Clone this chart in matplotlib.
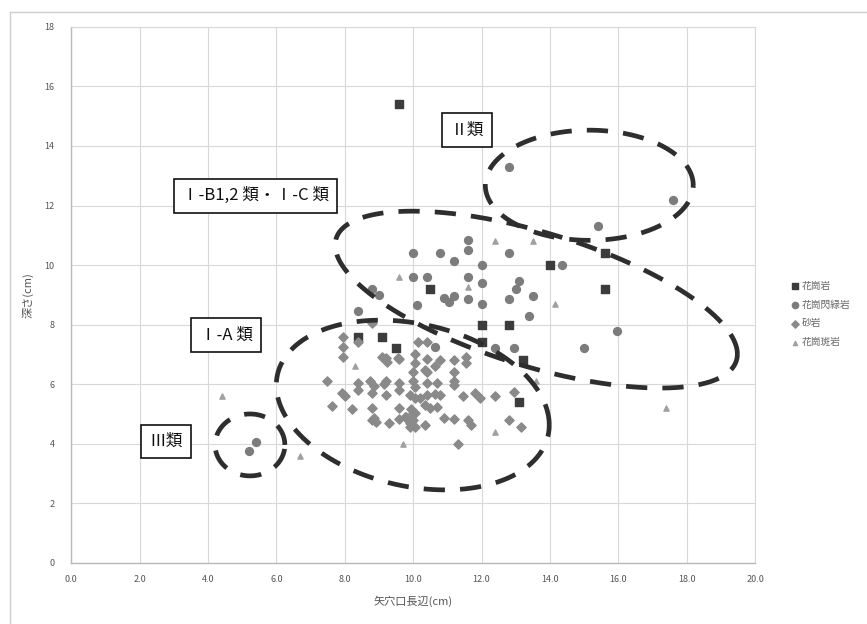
import numpy as np
import matplotlib
matplotlib.use("Agg")
import matplotlib.pyplot as plt
from matplotlib.lines import Line2D

plt.rcParams['font.family'] = ['Noto Sans CJK JP', 'DejaVu Sans']

# 花崗岩 (squares)
granite_x = [9.6, 14.0, 15.6, 15.6, 12.0, 12.8, 13.2, 10.5, 12.0, 13.1, 9.1, 9.5, 8.4]
granite_y = [15.4, 10.0, 10.4, 9.2, 8.0, 8.0, 6.8, 9.2, 7.4, 5.4, 7.6, 7.2, 7.6]

# 花崗閃緑岩 (circles)
grano_x = [12.8, 17.6, 15.4, 14.35, 15.95, 15.0, 5.4, 5.2, 11.6, 11.6, 10.0, 10.8, 11.2,
           12.8, 12.0, 10.0, 10.4, 11.6, 12.0, 13.1, 13.0, 10.9, 11.05, 11.2, 11.6, 12.0,
           12.8, 13.5, 10.1, 13.4, 8.8, 9.0, 8.4, 12.4, 12.95, 10.65]
grano_y = [13.3, 12.2, 11.3, 10.0, 7.8, 7.2, 4.05, 3.75, 10.85, 10.5, 10.4, 10.4, 10.15,
           10.4, 10.0, 9.6, 9.6, 9.6, 9.4, 9.45, 9.2, 8.9, 8.75, 8.95, 8.85, 8.7,
           8.85, 8.95, 8.65, 8.3, 9.2, 9.0, 8.45, 7.2, 7.2, 7.25]

# 砂岩 (diamonds)
sand_x = [7.96, 7.96, 7.96, 8.4, 9.1, 9.25, 9.6, 10.05, 10.05, 10.4, 10.8, 11.2, 11.55, 11.55,
          7.47, 8.4, 8.4, 8.75, 8.85, 9.2, 9.6, 9.6, 10.0, 10.0, 10.05, 10.4, 10.4, 10.7,
          11.2, 11.2, 11.2, 10.35, 10.65, 7.92, 8.0, 8.8, 9.2, 9.9, 10.05, 10.2, 10.4, 10.65,
          10.8, 11.45, 11.8, 11.95, 12.4, 12.95, 7.62, 8.2, 8.8, 9.6, 9.95, 10.05, 10.35, 10.5,
          10.7, 8.8, 8.9, 9.3, 9.6, 9.8, 9.9, 9.9, 10.35, 10.9, 11.2, 11.6, 11.7, 12.8,
          13.15, 11.3, 10.15, 10.4, 9.15, 8.85, 9.75, 10.0, 10.0, 10.05, 9.2, 9.55, 8.8]
sand_y = [7.6, 7.25, 6.9, 7.4, 6.9, 6.75, 6.85, 7.0, 6.7, 6.85, 6.8, 6.8, 6.9, 6.7,
          6.12, 6.05, 5.8, 6.1, 5.95, 6.1, 6.05, 5.8, 6.42, 6.12, 5.9, 6.42, 6.03, 6.05,
          6.42, 6.1, 5.98, 6.48, 6.6, 5.72, 5.6, 5.7, 5.65, 5.64, 5.55, 5.53, 5.64, 5.67,
          5.64, 5.6, 5.72, 5.53, 5.6, 5.75, 5.27, 5.16, 5.2, 5.2, 5.15, 5.04, 5.3, 5.19,
          5.25, 4.8, 4.74, 4.7, 4.82, 4.9, 4.71, 4.55, 4.63, 4.86, 4.82, 4.8, 4.63, 4.8,
          4.55, 4.0, 7.43, 7.43, 6.0, 4.86, 4.9, 5.02, 4.8, 4.57, 6.87, 6.87, 8.05]

# 花崗斑岩 (small triangles)
porph_x = [4.4, 6.7, 17.4, 13.5, 9.6, 9.7, 12.4, 13.6, 8.3, 14.15, 11.6, 12.4]
porph_y = [5.6, 3.6, 5.2, 10.8, 9.6, 4.0, 4.4, 6.1, 6.6, 8.7, 9.25, 10.8]

series_names = ['花崗岩', '花崗閃緑岩', '砂岩', '花崗斑岩']

# grouping ellipses: centre x, centre y, half width, half height, skew (deg)
ellipse_II = (15.15, 12.68, 3.04, 1.85, 0)
ellipse_IB = (13.6, 8.84, 5.88, 2.97, -38)
ellipse_IA = (9.99, 5.30, 3.99, 2.85, -13.6)
ellipse_III = (5.23, 3.96, 1.02, 1.04, 0)

box_labels = ['Ⅱ類', 'Ⅰ-B1,2 類・Ⅰ-C 類', 'Ⅰ-A 類', 'Ⅲ類']
box_x = [11.58, 5.39, 4.53, 2.78]
box_y = [14.53, 12.33, 7.65, 4.07]


def ellipse_xy(cx, cy, rx, ry, skew):
    t = np.linspace(0, 2 * np.pi, 400)
    return cx + rx * np.cos(t), cy + ry * np.sin(t + np.radians(skew))


fig = plt.figure(figsize=(8.67, 6.24), dpi=100)
ax = fig.add_axes([0.082, 0.098, 0.789, 0.859])

# chart area border (left + top)
fig.add_artist(Line2D([10 / 867, 10 / 867], [0, 1 - 12 / 624], color='#cfcfcf', lw=1.0))
fig.add_artist(Line2D([10 / 867, 1], [1 - 12 / 624, 1 - 12 / 624], color='#cfcfcf', lw=1.0))

ax.scatter(granite_x, granite_y, marker='s', s=30, color='#3c3c3c', label=series_names[0], zorder=3)
ax.scatter(grano_x, grano_y, marker='o', s=32, color='#7c7c7c', label=series_names[1], zorder=3)
ax.scatter(sand_x, sand_y, marker='D', s=22, color='#8a8a8a', label=series_names[2], zorder=3)
ax.scatter(porph_x, porph_y, marker='^', s=14, color='#a0a0a0', label=series_names[3], zorder=3)

for e in [ellipse_II, ellipse_IB, ellipse_IA, ellipse_III]:
    ex, ey = ellipse_xy(*e)
    ax.plot(ex, ey, color='#2e2e2e', lw=3.4, linestyle=(0, (4.5, 3.2)),
            solid_capstyle='butt', zorder=4)

for lab, bx, by in zip(box_labels, box_x, box_y):
    ax.text(bx, by, lab, ha='center', va='center', fontsize=12, color='#111111', zorder=5,
            bbox=dict(boxstyle='square,pad=0.5', fc='white', ec='#111111', lw=1.2))

ax.set_xlim(0, 20)
ax.set_ylim(0, 18)
ax.set_xticks(np.arange(0, 21, 2))
ax.set_yticks(np.arange(0, 19, 2))
ax.set_xticklabels([f'{v:.1f}' for v in np.arange(0, 21, 2)])
ax.set_yticklabels([f'{v}' for v in range(0, 19, 2)])
ax.tick_params(length=0, labelsize=6.5, labelcolor='#555555')
ax.tick_params(axis='y', pad=12)
ax.tick_params(axis='x', pad=9)
ax.grid(True, color='#d8d8d8', lw=0.8)
ax.set_axisbelow(True)
for side in ['top', 'right']:
    ax.spines[side].set_color('#d8d8d8')
    ax.spines[side].set_linewidth(0.8)
for side in ['left', 'bottom']:
    ax.spines[side].set_color('#b8b8b8')
    ax.spines[side].set_linewidth(1.0)

ax.set_xlabel('矢穴口長辺(cm)', fontsize=8, color='#555555', labelpad=8)
ax.set_ylabel('深さ(cm)', fontsize=8, color='#555555', labelpad=8)

fig.legend(loc='center left', bbox_to_anchor=(780 / 867, 1 - 314 / 624), frameon=False,
           fontsize=7, labelcolor='#666666', handletextpad=0.1, labelspacing=0.9,
           handlelength=1.2, markerscale=0.8)

fig.savefig('out.png', dpi=100)
